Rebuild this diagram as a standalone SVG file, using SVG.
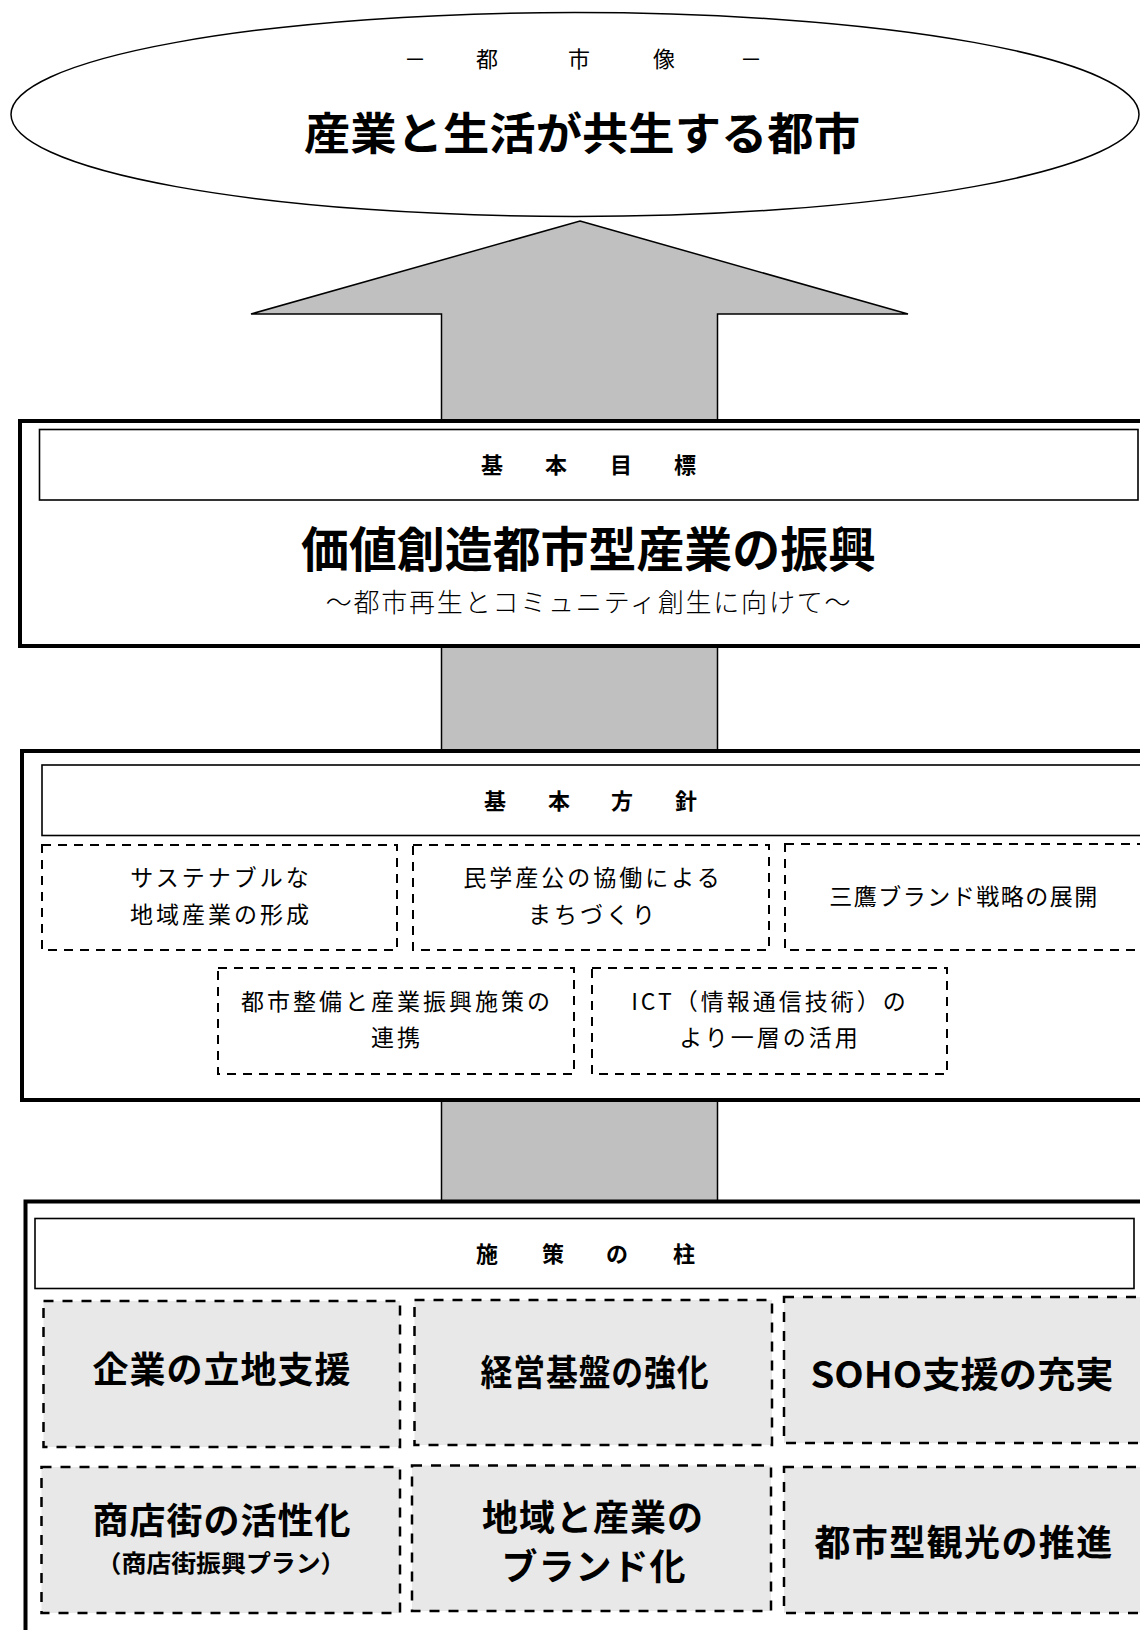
<svg xmlns="http://www.w3.org/2000/svg" width="1140" height="1630" viewBox="0 0 1140 1630">
<style>
  text { font-family: "Noto Sans CJK JP", "Noto Sans", sans-serif; fill: #000; text-anchor: middle; dominant-baseline: central; }
  .outer { fill: #fff; stroke: #000; stroke-width: 4; }
  .title { fill: #fff; stroke: #000; stroke-width: 1.6; }
  .dash2 { fill: #fff; stroke: #000; stroke-width: 2; stroke-dasharray: 9 7; }
  .dash3 { fill: #e8e8e8; stroke: #000; stroke-width: 2.5; stroke-dasharray: 10 9; }
  .head { font-size: 22px; font-weight: 700; }
  .pol { font-size: 23px; font-weight: 400; letter-spacing: 3px; }
  .pil { font-size: 36px; font-weight: 700; letter-spacing: 1px; }
</style>

<g id="connectors">
  <polygon points="580,221 908,314 717.5,314 717.5,1205 441.5,1205 441.5,314 251,314" fill="#c0c0c0" stroke="#000" stroke-width="1.5"/>
</g>

<g id="vision">
  <ellipse cx="575" cy="114.5" rx="564" ry="102" fill="#fff" stroke="#000" stroke-width="1.5"/>
  <text x="415 487 579 664 751" y="57" style="font-size:22px">－都市像－</text>
  <text x="582" y="131" style="font-size:44px;font-weight:700" textLength="556" lengthAdjust="spacingAndGlyphs">産業と生活が共生する都市</text>
</g>

<g id="goal">
  <rect class="outer" x="20" y="421" width="1130" height="225"/>
  <rect class="title" x="39.5" y="429.5" width="1098.5" height="70.5"/>
  <text class="head" x="492 556 621 685" y="463">基本目標</text>
  <text x="588.5" y="546" style="font-size:48px;font-weight:700" textLength="575" lengthAdjust="spacingAndGlyphs">価値創造都市型産業の振興</text>
  <text x="589" y="600" style="font-size:26px;font-weight:300;letter-spacing:1.8px">～都市再生とコミュニティ創生に向けて～</text>
</g>

<g id="policy">
  <rect class="outer" x="22" y="751" width="1130" height="349"/>
  <rect class="title" x="42" y="765" width="1110" height="70.5"/>
  <text class="head" x="495 559 622 686" y="799">基本方針</text>
  <g id="policy-1">
    <rect class="dash2" x="42" y="845" width="355" height="105"/>
    <text class="pol" x="221" y="876">サステナブルな</text>
    <text class="pol" x="221" y="912.5">地域産業の形成</text>
  </g>
  <g id="policy-2">
    <rect class="dash2" x="413" y="845" width="356" height="105"/>
    <text class="pol" x="593" y="876">民学産公の協働による</text>
    <text class="pol" x="593" y="912.5">まちづくり</text>
  </g>
  <g id="policy-3">
    <rect class="dash2" x="785" y="844" width="370" height="106"/>
    <text class="pol" x="964" y="895" style="letter-spacing:1.5px">三鷹ブランド戦略の展開</text>
  </g>
  <g id="policy-4">
    <rect class="dash2" x="218" y="968" width="356" height="106"/>
    <text class="pol" x="397" y="1000">都市整備と産業振興施策の</text>
    <text class="pol" x="397" y="1036">連携</text>
  </g>
  <g id="policy-5">
    <rect class="dash2" x="592" y="968" width="355" height="106"/>
    <text class="pol" x="770" y="1000">ICT（情報通信技術）の</text>
    <text class="pol" x="770" y="1036">より一層の活用</text>
  </g>
</g>

<g id="pillars">
  <rect class="outer" x="25.5" y="1201.5" width="1130" height="450"/>
  <rect class="title" x="35" y="1218.5" width="1099" height="70"/>
  <text class="head" x="487 553 617 684" y="1252">施策の柱</text>
  <g id="pillar-1">
    <rect class="dash3" x="43.5" y="1301" width="356.5" height="146"/>
    <text class="pil" x="222" y="1367">企業の立地支援</text>
  </g>
  <g id="pillar-2">
    <rect class="dash3" x="414.5" y="1300" width="357.5" height="145"/>
    <text class="pil" x="595" y="1370" textLength="229" lengthAdjust="spacingAndGlyphs">経営基盤の強化</text>
  </g>
  <g id="pillar-3">
    <rect class="dash3" x="784" y="1297" width="370" height="146"/>
    <text class="pil" x="962" y="1372" textLength="303" lengthAdjust="spacingAndGlyphs" style="letter-spacing:0">SOHO支援の充実</text>
  </g>
  <g id="pillar-4">
    <rect class="dash3" x="41.5" y="1467" width="358.5" height="146"/>
    <text class="pil" x="222" y="1518">商店街の活性化</text>
    <text x="221" y="1561" style="font-size:24px;font-weight:700" textLength="249" lengthAdjust="spacingAndGlyphs">（商店街振興プラン）</text>
  </g>
  <g id="pillar-5">
    <rect class="dash3" x="412" y="1465.5" width="359" height="145.5"/>
    <text class="pil" x="593" y="1515">地域と産業の</text>
    <text class="pil" x="594" y="1564">ブランド化</text>
  </g>
  <g id="pillar-6">
    <rect class="dash3" x="784" y="1467" width="370" height="146"/>
    <text class="pil" x="964" y="1540" style="letter-spacing:1.4px">都市型観光の推進</text>
  </g>
</g>
</svg>
